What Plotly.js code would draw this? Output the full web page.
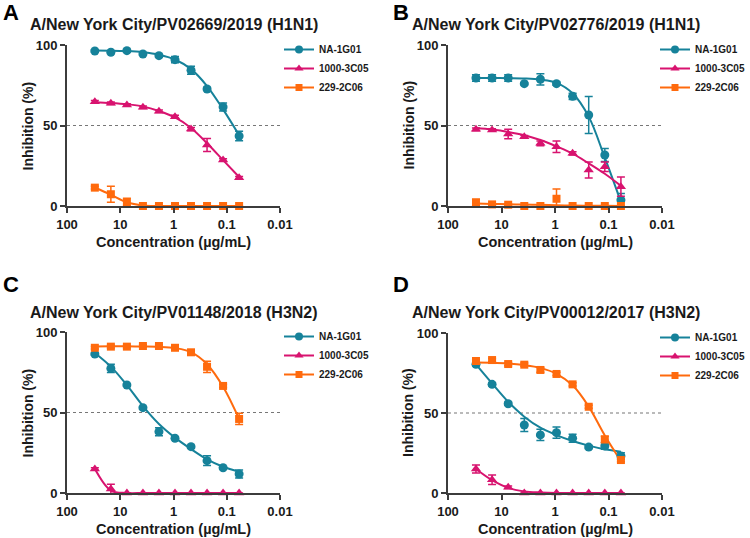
<!DOCTYPE html>
<html>
<head>
<meta charset="utf-8">
<script src="https://cdn.plot.ly/plotly-3.0.1.min.js"></script>
<style>
  body { margin: 0; background: #fff; }
  #chart { width: 750px; height: 538px; }
</style>
</head>
<body>
<div id="chart"></div>
<script>
// antibody concentration (ug/mL), 2-fold dilutions
var conc = [30, 15, 7.5, 3.75, 1.875, 0.9375, 0.46875, 0.234375, 0.1171875, 0.05859375];
var names = ['NA-1G01', '1000-3C05', '229-2C06'];
var colors = ['#16829a', '#d8136f', '#ff6a0d'];
var symbols = ['circle', 'triangle-up', 'square'];
var titles = ['A/New York City/PV02669/2019 (H1N1)', 'A/New York City/PV02776/2019 (H1N1)',
              'A/New York City/PV01148/2018 (H3N2)', 'A/New York City/PV00012/2017 (H3N2)'];
var letters = ['A', 'B', 'C', 'D'];

// panel A
var aNA = [96.3, 95.5, 96.5, 94.4, 93.4, 90.9, 84.3, 72.7, 61.5, 43.5];
var aNAerr = [0.8, 0.8, 0.8, 0.8, 0.8, 2, 2.5, 1, 2.5, 3];
var aNAfit = [96.6, 96.5, 96.2, 95.5, 94, 91, 85, 74.5, 60, 44];
var a3C = [64.8, 63.8, 62.7, 61.3, 58.8, 55.5, 47.8, 37.9, 28.6, 17.6];
var a3Cerr = [0.8, 0.8, 0.8, 0.8, 0.8, 0.8, 1, 4, 0.8, 0.8];
var a3Cfit = [64.5, 64, 63.2, 61.8, 59, 55, 48.5, 39, 28.5, 18];
var a2C = [11.4, 7.3, 2.3, 0, 0, 0, 0, 0, 0, 0];
var a2Cerr = [0.8, 5, 2.5, 0, 0, 0, 0, 0, 0, 0];
var a2Cfit = [11.5, 7, 2.3, 0.3, 0, 0, 0, 0, 0, 0];

// panel B
var bNA = [79.5, 79.5, 79.5, 76, 78.7, 76, 68.1, 56.5, 31.7, 3.7];
var bNAerr = [2, 2, 2, 0.5, 3.5, 1, 2, 11.5, 4, 4];
var bNAfit = [79.5, 79.5, 79.4, 79.2, 78.5, 76.5, 70, 55.5, 30, 2.5];
var b3C = [47.6, 47.2, 44.7, 43.0, 38.9, 36.8, 32.7, 22.4, 24.4, 12.0];
var b3Cerr = [0.8, 0.8, 3, 0.8, 1.5, 3.5, 1, 5, 3, 6];
var b3Cfit = [48.5, 47.5, 46, 44, 41, 37, 32.5, 26.5, 20, 12.5];
var b2C = [2.2, 1, 0.8, 0, 0, 4.5, 0, 0, 0, 0];
var b2Cerr = [2, 0.5, 0.5, 0, 0, 6, 0, 0, 0, 0];
var b2Cfit = [1.5, 1.3, 1.1, 0.9, 0.7, 0.5, 0.3, 0.2, 0.1, 0];

// panel C
var cNA = [86.3, 77.4, 67.1, 53.0, 38.1, 34, 28.8, 20.1, 15.7, 11.8];
var cNAerr = [0.8, 2.5, 0.8, 0.8, 2.5, 0.8, 0.8, 3, 0.8, 2.5];
var cNAfit = [87, 78.5, 67, 54, 42.9, 34.4, 27.3, 20.9, 16.3, 13.2];
var c3C = [14.9, 2.5, 0, 0, 0, 0, 0, 0, 0, 0];
var c3Cerr = [0.8, 3, 0, 0, 0, 0, 0, 0, 0, 0];
var c3Cfit = [15, 1.5, 0, 0, 0, 0, 0, 0, 0, 0];
var c2C = [90.2, 90.9, 90.9, 91.3, 91.3, 90.2, 87.4, 78.4, 66.5, 46];
var c2Cerr = [0.8, 0.8, 0.8, 0.8, 0.8, 1, 1, 3.5, 1, 3.5];
var c2Cfit = [91, 91.1, 91.1, 91, 90.8, 90, 87.5, 80, 66, 46];

// panel D
var dNA = [80.4, 67.9, 55.8, 42.5, 36.3, 37.7, 34.2, 28.7, 29.4, 23.1];
var dNAerr = [1, 1, 1, 4, 3.5, 3.5, 2.5, 1, 2, 2];
var dNAfit = [80.4, 68.5, 57, 47.7, 40.8, 36.2, 32.5, 29.6, 27.3, 25.8];
var d3C = [15, 8.3, 3.6, 0, 0, 0, 0, 0, 0, 0];
var d3Cerr = [2.5, 3, 0.8, 0, 0, 0, 0, 0, 0, 0];
var d3Cfit = [15, 8, 3.2, 1, 0.3, 0, 0, 0, 0, 0];
var d2C = [82.5, 83.1, 80.6, 80.2, 76.9, 74.4, 67.9, 53.9, 33.5, 20.6];
var d2Cerr = [1, 1, 1, 1, 1.5, 1, 1, 1, 2, 1];
var d2Cfit = [81.5, 81.4, 81, 80, 78.2, 74.5, 67.3, 54, 36, 20];

var xTicks = [100, 10, 1, 0.1, 0.01];
var xTickText = ['100', '10', '1', '0.1', '0.01'];
var yTicks = [0, 50, 100];

var panels = [
  {means: [aNA, a3C, a2C], errs: [aNAerr, a3Cerr, a2Cerr], fits: [aNAfit, a3Cfit, a2Cfit]},
  {means: [bNA, b3C, b2C], errs: [bNAerr, b3Cerr, b2Cerr], fits: [bNAfit, b3Cfit, b2Cfit]},
  {means: [cNA, c3C, c2C], errs: [cNAerr, c3Cerr, c2Cerr], fits: [cNAfit, c3Cfit, c2Cfit]},
  {means: [dNA, d3C, d2C], errs: [dNAerr, d3Cerr, d2Cerr], fits: [dNAfit, d3Cfit, d2Cfit]}
];

var W = 750, H = 538;
// plot boxes in pixels: [left, right, top, bottom]
var boxes = [[67, 280, 45, 206], [448, 662, 45, 206], [67, 280, 332, 493], [448, 662, 333, 493]];
var titlePos = [[28, 24], [410, 25], [28, 312], [410, 312]];
var letterPos = [[1, 0], [391, 0], [1, 272], [391, 272]];

var font = 'Liberation Sans, Arial, Helvetica, sans-serif';
var axisCol = '#3c3c3c';
var txtCol = '#1a1a1a';

var data = [];
var layout = {
  width: W, height: H,
  margin: {l: 0, r: 0, t: 0, b: 0},
  paper_bgcolor: '#fff', plot_bgcolor: '#fff',
  font: {family: font, color: txtCol},
  annotations: [], shapes: []
};

function ann(text, x, y, opts) {
  var a = {text: text, showarrow: false, xref: 'paper', yref: 'paper',
           x: x / W, y: 1 - y / H, xanchor: 'center', yanchor: 'middle',
           font: {family: font, size: 14, color: txtCol, weight: 'bold'}};
  for (var k in opts) a[k] = opts[k];
  layout.annotations.push(a);
}

panels.forEach(function (p, k) {
  var sfx = k === 0 ? '' : String(k + 1);
  var xa = 'x' + sfx, ya = 'y' + sfx;
  var leg = 'legend' + sfx;
  var b = boxes[k];
  var rightCol = (k % 2 === 1);

  for (var s = 0; s < 3; s++) {
    // fitted curve
    data.push({
      type: 'scatter', mode: 'lines', x: conc, y: p.fits[s],
      xaxis: xa, yaxis: ya, showlegend: false, cliponaxis: false,
      line: {color: colors[s], width: 2, shape: 'spline', smoothing: 1}, hoverinfo: 'skip'
    });
  }
  for (var s = 0; s < 3; s++) {
    // mean +/- SD
    data.push({
      type: 'scatter', mode: 'markers', x: conc, y: p.means[s], name: names[s],
      xaxis: xa, yaxis: ya, showlegend: false, cliponaxis: false,
      marker: {color: colors[s], symbol: symbols[s], size: s === 2 ? 8 : 9},
      error_y: {type: 'data', array: p.errs[s], visible: true, color: colors[s], thickness: 1.5, width: 4}
    });
  }
  for (var s = 0; s < 3; s++) {
    // legend entry
    data.push({
      type: 'scatter', mode: 'lines+markers', x: [null], y: [null], name: names[s],
      xaxis: xa, yaxis: ya, legend: leg,
      line: {color: colors[s], width: 2},
      marker: {color: colors[s], symbol: symbols[s], size: s === 2 ? 7 : 8}
    });
  }

  layout['xaxis' + sfx] = {
    domain: [b[0] / W, b[1] / W], anchor: ya,
    type: 'log', range: [2, -2],
    tickvals: xTicks, ticktext: xTickText,
    ticks: 'outside', ticklen: 5, tickwidth: 2, tickcolor: axisCol,
    showline: true, linewidth: 2, linecolor: axisCol,
    showgrid: false, zeroline: false,
    tickfont: {family: font, size: 13, color: txtCol, weight: 'bold'}
  };
  layout['yaxis' + sfx] = {
    domain: [1 - b[3] / H, 1 - b[2] / H], anchor: xa,
    range: [0, 100], tickvals: yTicks,
    ticks: 'outside', ticklen: 5, tickwidth: 2, tickcolor: axisCol,
    showline: true, linewidth: 2, linecolor: axisCol,
    showgrid: false, zeroline: false,
    tickfont: {family: font, size: 13, color: txtCol, weight: 'bold'}
  };
  // right-column legends are pinned to the page edge so they do not push the margins
  layout[leg] = {
    x: rightCol ? 1 : (b[1] - 1) / W, xanchor: rightCol ? 'right' : 'left',
    y: 1 - (b[2] - 10) / H, yanchor: 'top',
    bgcolor: 'rgba(0,0,0,0)', itemwidth: 30, tracegroupgap: 0,
    font: {family: font, size: 10, color: txtCol, weight: 'bold'}
  };

  // 50% reference line
  layout.shapes.push({
    type: 'line', xref: xa + ' domain', yref: ya, x0: 0, x1: 1, y0: 50, y1: 50,
    line: {color: '#777', width: 1.2, dash: 'dot'}, layer: 'below'
  });

  // axis titles
  ann('Concentration (\u00b5g/mL)', (b[0] + b[1]) / 2, b[3] + 36, {font: {family: font, size: 14.5, color: txtCol, weight: 'bold'}});
  ann('Inhibition (%)', b[0] - 40, (b[2] + b[3]) / 2, {textangle: -90});

  ann(titles[k], titlePos[k][0], titlePos[k][1], {xanchor: 'left',
      font: {family: font, size: 16, color: txtCol, weight: 'bold'}});
  ann(letters[k], letterPos[k][0], letterPos[k][1], {xanchor: 'left', yanchor: 'top', yshift: 2,
      font: {family: font, size: 22, color: '#000', weight: 'bold'}});
});

Plotly.newPlot('chart', data, layout, {displayModeBar: false, staticPlot: true});
</script>
</body>
</html>
